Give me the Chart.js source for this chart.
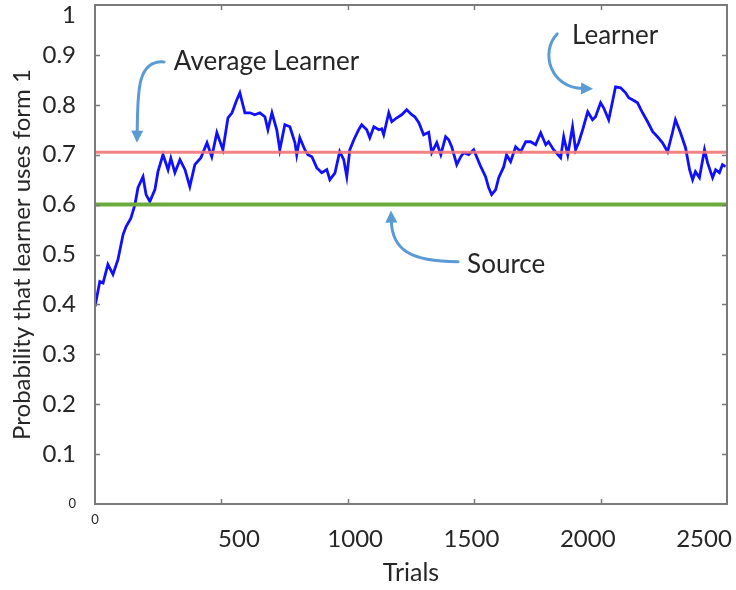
<!DOCTYPE html>
<html>
<head>
<meta charset="utf-8">
<script src="https://cdn.jsdelivr.net/npm/chart.js@4/dist/chart.umd.min.js"></script>
<style>
  html, body { margin: 0; padding: 0; background: #fff; }
  #wrap { width: 736px; height: 590px; }
</style>
</head>
<body>
<div id="wrap"><canvas id="c" width="736" height="590"></canvas></div>
<script>
// Trial number and the learner's probability of using form 1
const trials = [0,19,32,51,71,91,111,123,142,158,
  170,190,202,217,237,249,269,289,300,316,
  336,356,375,395,419,443,462,482,506,526,
  542,561,573,593,613,632,652,672,684,700,
  719,731,751,771,791,798,810,830,842,858,
  877,897,917,929,949,968,984,996,1008,1024,
  1043,1055,1075,1087,1103,1123,1134,1142,1162,1174,
  1194,1213,1233,1253,1265,1281,1300,1320,1332,1352,
  1368,1387,1399,1411,1431,1447,1458,1478,1498,1526,
  1545,1557,1569,1585,1597,1617,1628,1644,1664,1684,
  1704,1723,1743,1763,1783,1794,1814,1842,1854,1870,
  1889,1901,1913,1929,1949,1968,1980,2000,2012,2032,
  2047,2059,2079,2099,2111,2126,2146,2166,2186,2206,
  2225,2245,2265,2285,2296,2316,2336,2352,2364,2375,
  2391,2411,2423,2443,2455,2470,2482,2494];
const learnerP = [0.396,0.446,0.443,0.48,0.46,0.49,0.54,0.556,0.573,0.60,
  0.634,0.656,0.62,0.606,0.63,0.666,0.70,0.67,0.693,0.664,
  0.69,0.67,0.636,0.68,0.694,0.724,0.696,0.744,0.71,0.774,
  0.784,0.81,0.824,0.784,0.784,0.78,0.784,0.776,0.75,0.784,
  0.75,0.71,0.76,0.756,0.724,0.70,0.734,0.71,0.70,0.696,
  0.674,0.664,0.67,0.65,0.663,0.706,0.69,0.656,0.71,0.73,
  0.75,0.76,0.75,0.734,0.756,0.75,0.752,0.74,0.784,0.766,
  0.774,0.78,0.79,0.78,0.776,0.764,0.74,0.745,0.704,0.724,
  0.70,0.736,0.73,0.716,0.68,0.696,0.704,0.70,0.71,0.676,
  0.656,0.634,0.62,0.63,0.654,0.676,0.70,0.686,0.716,0.706,
  0.726,0.726,0.72,0.744,0.72,0.726,0.71,0.694,0.736,0.70,
  0.756,0.71,0.724,0.75,0.786,0.77,0.776,0.804,0.794,0.77,
  0.806,0.836,0.834,0.824,0.814,0.81,0.804,0.784,0.766,0.746,
  0.736,0.724,0.706,0.746,0.77,0.744,0.714,0.67,0.65,0.666,
  0.654,0.71,0.684,0.654,0.67,0.664,0.68,0.676];

// Reference levels
const averageLearnerP = 0.705;
const sourceP = 0.6;

// Axis ranges and ticks
const trialRange = [0, 2500];
const trialTicks = [0, 500, 1000, 1500, 2000, 2500];
const probRange = [0, 1];
const probTicks = [0, 0.1, 0.2, 0.3, 0.4, 0.5, 0.6, 0.7, 0.8, 0.9, 1];
// The numbers under the axis sit on a slightly narrower spread than the tick marks
const trialLabelRange = [-119, 2599];

const FONT = 'Lato, "Open Sans", sans-serif';
const TEXT = '#262626';
const FRAME = '#7a7a7a';

// Callouts, positioned in data units (trial, probability)
const callouts = [
  { text: 'Average Learner', at: [312, 0.886],
    path: [[273, 0.886], [162, 0.890], [170, 0.820], [166, 0.724]] },
  { text: 'Learner', at: [1887, 0.938],
    path: [[1828, 0.942], [1760, 0.906], [1800, 0.834], [1970, 0.832]] },
  { text: 'Source', at: [1472, 0.479],
    path: [[1436, 0.4855], [1246, 0.4855], [1175, 0.5095], [1171, 0.588]] }
];

const pts = (xs, ys) => xs.map((x, i) => ({ x, y: ys[i] }));
const flat = v => [{ x: trialRange[0], y: v }, { x: trialRange[1], y: v }];
const tickList = vals => vals.map(value => ({ value }));

// Box frame with inward tick marks on all four sides
const framePlugin = {
  id: 'frame',
  afterDatasetsDraw(chart) {
    const { ctx, chartArea: a, scales } = chart;
    ctx.save();
    ctx.strokeStyle = FRAME;
    ctx.lineWidth = 1.5;
    const L = 5;
    scales.x.ticks.forEach(t => {
      if (t.value <= trialRange[0] || t.value >= trialRange[1]) return;
      const px = Math.round(scales.x.getPixelForValue(t.value)) + 0.5;
      ctx.beginPath();
      ctx.moveTo(px, a.bottom); ctx.lineTo(px, a.bottom - L);
      ctx.moveTo(px, a.top); ctx.lineTo(px, a.top + L);
      ctx.stroke();
    });
    scales.y.ticks.forEach(t => {
      if (t.value <= probRange[0] + 1e-9 || t.value >= probRange[1] - 1e-9) return;
      const py = Math.round(scales.y.getPixelForValue(t.value)) + 0.5;
      ctx.beginPath();
      ctx.moveTo(a.left, py); ctx.lineTo(a.left + L, py);
      ctx.moveTo(a.right, py); ctx.lineTo(a.right - L, py);
      ctx.stroke();
    });
    ctx.lineWidth = 2;
    ctx.strokeRect(a.left, a.top, a.right - a.left, a.bottom - a.top);
    ctx.restore();
  }
};

// Text callouts with curved arrows
const calloutPlugin = {
  id: 'callouts',
  afterDraw(chart) {
    const { ctx, scales } = chart;
    const P = ([t, v]) => [scales.x.getPixelForValue(t), scales.y.getPixelForValue(v)];
    ctx.save();
    callouts.forEach(c => {
      const [p0, c1, c2, tip] = c.path.map(P);
      const dx = tip[0] - c2[0], dy = tip[1] - c2[1];
      const len = Math.hypot(dx, dy), ux = dx / len, uy = dy / len;
      const head = 12, half = 6;
      const base = [tip[0] - ux * head, tip[1] - uy * head];
      ctx.strokeStyle = '#5b9bd5';
      ctx.fillStyle = '#5b9bd5';
      ctx.lineWidth = 3;
      ctx.lineCap = 'round';
      ctx.beginPath();
      ctx.moveTo(p0[0], p0[1]);
      ctx.bezierCurveTo(c1[0], c1[1], c2[0], c2[1], base[0] + ux * 2, base[1] + uy * 2);
      ctx.stroke();
      ctx.beginPath();
      ctx.moveTo(tip[0], tip[1]);
      ctx.lineTo(base[0] - uy * half, base[1] + ux * half);
      ctx.lineTo(base[0] + uy * half, base[1] - ux * half);
      ctx.closePath();
      ctx.fill();
      const [tx, ty] = P(c.at);
      ctx.fillStyle = TEXT;
      ctx.font = '26px ' + FONT;
      ctx.textAlign = 'left';
      ctx.textBaseline = 'middle';
      ctx.fillText(c.text, tx, ty);
    });
    ctx.restore();
  }
};

new Chart(document.getElementById('c'), {
  type: 'line',
  data: {
    datasets: [
      { label: 'Average Learner', data: flat(averageLearnerP), borderColor: 'rgba(242,118,118,0.9)',
        borderWidth: 3, pointRadius: 0, order: 1 },
      { label: 'Source', data: flat(sourceP), borderColor: '#6aab3c',
        borderWidth: 4, pointRadius: 0, order: 1 },
      { label: 'Learner', data: pts(trials, learnerP), borderColor: '#1010ff',
        borderWidth: 2.8, pointRadius: 0, tension: 0, order: 2 }
    ]
  },
  options: {
    responsive: false,
    animation: false,
    events: [],
    layout: { padding: { left: 0, top: 0, right: 9, bottom: 0 } },
    plugins: { legend: { display: false }, tooltip: { enabled: false } },
    scales: {
      // data axis: carries only the small origin label
      x: {
        type: 'linear', position: 'bottom', min: trialRange[0], max: trialRange[1],
        grid: { display: false }, border: { display: false },
        afterBuildTicks: s => { s.ticks = tickList(trialTicks); },
        ticks: {
          mirror: true, padding: -22, maxRotation: 0, autoSkip: false, color: TEXT,
          font: { family: FONT, size: 13, lineHeight: 1 },
          callback: v => v === 0 ? '0' : ''
        },
        afterFit(s) { s.height = 0; s.paddingLeft = 0; s.paddingRight = 0; }
      },
      // number row and title under the axis
      xl: {
        type: 'linear', position: 'bottom', min: trialLabelRange[0], max: trialLabelRange[1],
        grid: { display: false }, border: { display: false },
        afterBuildTicks: s => { s.ticks = tickList(trialTicks.filter(v => v > 0)); },
        ticks: {
          maxRotation: 0, autoSkip: false, padding: 12.6, color: TEXT,
          font: { family: FONT, size: 24, lineHeight: 1.2 },
          callback: v => String(v)
        },
        title: { display: true, text: 'Trials', color: TEXT,
          font: { family: FONT, size: 25, lineHeight: 1.2 }, padding: { top: 0, bottom: 2 } },
        afterFit(s) { s.height = 86; s.paddingLeft = 0; s.paddingRight = 0; }
      },
      y: {
        type: 'linear', position: 'left', min: probRange[0], max: probRange[1],
        grid: { display: false }, border: { display: false },
        afterBuildTicks: s => { s.ticks = tickList(probTicks); },
        ticks: {
          autoSkip: false, padding: 11, color: TEXT,
          font: ctx => (ctx.tick && ctx.tick.value === 0)
            ? { family: FONT, size: 13, lineHeight: 1 }
            : { family: FONT, size: 24, lineHeight: 0.83 },
          callback: v => {
            const r = Math.round(v * 10) / 10;
            return r === 1 ? ['', '1'] : String(r);
          }
        },
        title: { display: true, text: 'Probability that learner uses form 1', color: TEXT,
          font: { family: FONT, size: 24, lineHeight: 1.2 }, padding: { top: 8, bottom: 0 } },
        afterFit(s) { s.width = 95; s.paddingTop = 5; s.paddingBottom = 0; }
      }
    }
  },
  plugins: [framePlugin, calloutPlugin]
});
</script>
</body>
</html>
